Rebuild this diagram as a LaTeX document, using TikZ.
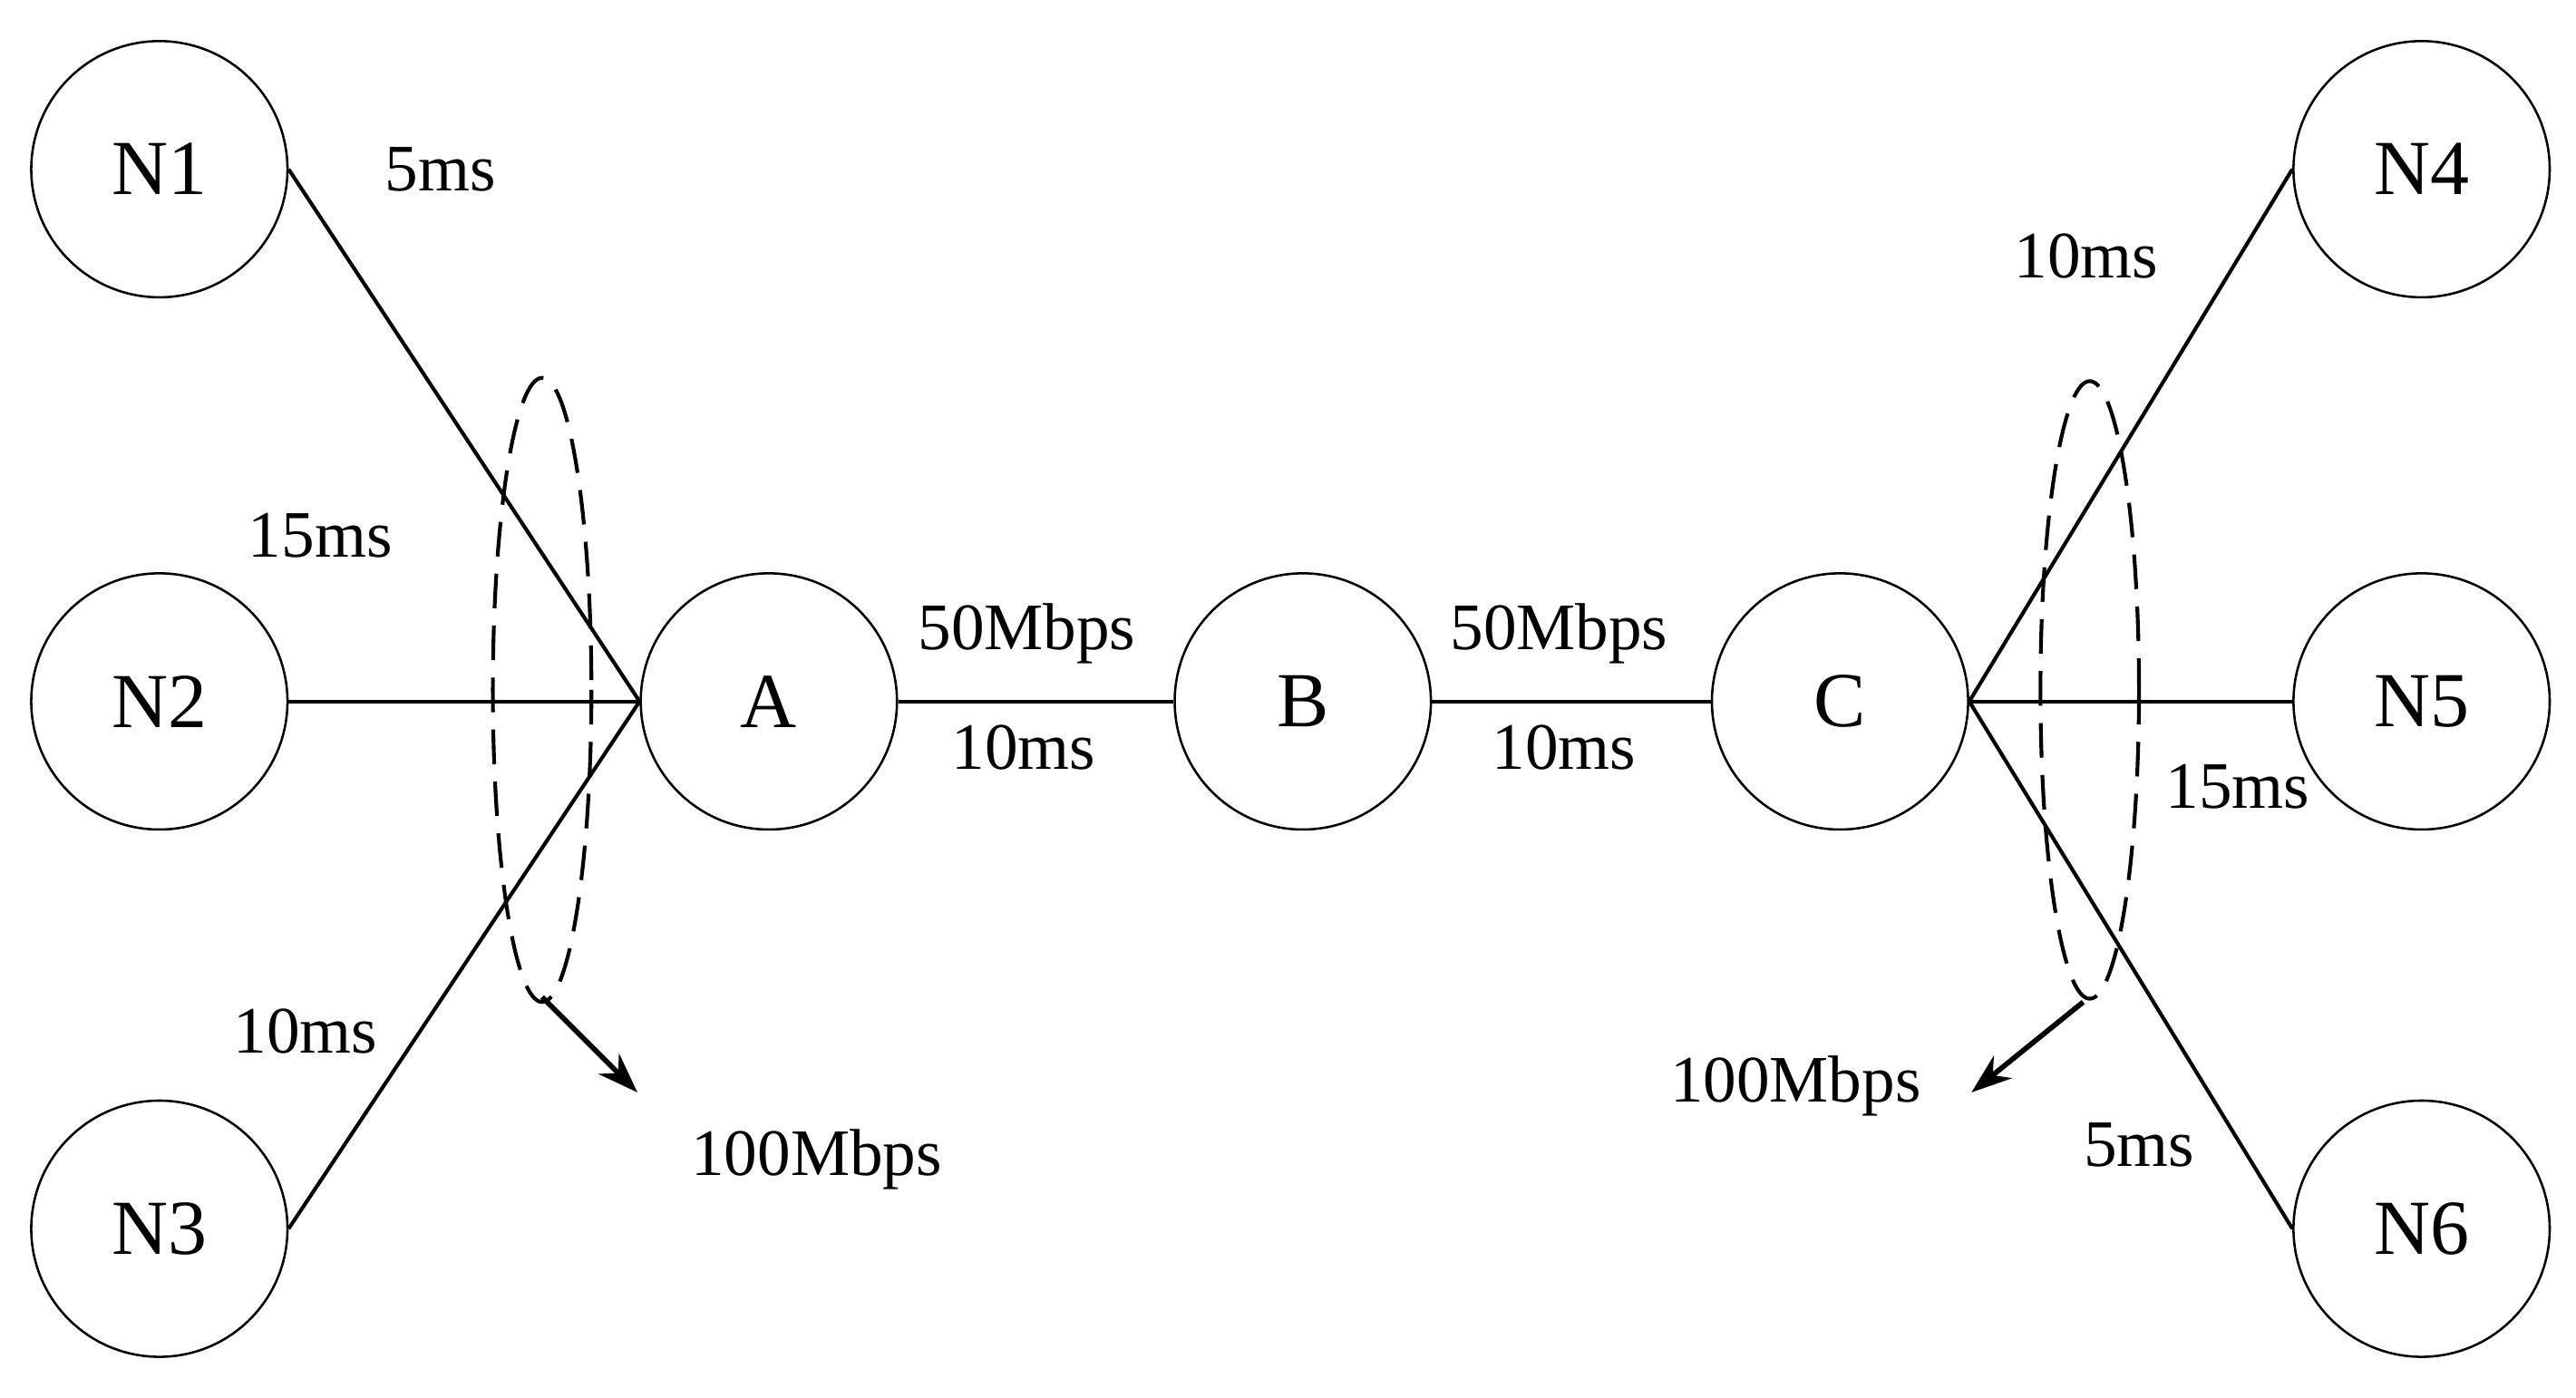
\documentclass[tikz,border=0pt]{standalone}
\usepackage{fontspec}
\setmainfont{Liberation Serif}
\usetikzlibrary{arrows.meta}
\begin{document}
\begin{tikzpicture}[x=0.02cm,y=-0.02cm,
 nd/.style={circle,draw,line width=0.8pt,minimum size=3.12cm,inner sep=0pt,font=\fontsize{27}{30}\selectfont},
 lb/.style={font=\fontsize{23}{26}\selectfont,inner sep=0pt},
 ln/.style={line width=1.3pt},
 el/.style={dashed,line width=1.3pt,dash pattern=on 12pt off 6pt},
 ar/.style={line width=1.8pt,-{Stealth[length=14pt,width=10pt]}}]
\useasboundingbox (0,0) rectangle (1568,851);
\node[nd] (N1) at (97,103) {N1};
\node[nd] (N2) at (97,427) {N2};
\node[nd] (N3) at (97,748) {N3};
\node[nd] (A) at (468,427) {A};
\node[nd] (B) at (793,427) {B};
\node[nd] (C) at (1120,427) {C};
\node[nd] (N4) at (1474,103) {N4};
\node[nd] (N5) at (1474,427) {N5};
\node[nd] (N6) at (1474,748) {N6};
\draw[ln] (N1.east) -- (A.west);
\draw[ln] (N2.east) -- (A.west);
\draw[ln] (N3.east) -- (A.west);
\draw[ln] (A) -- (B);
\draw[ln] (B) -- (C);
\draw[ln] (C.east) -- (N4.west);
\draw[ln] (C.east) -- (N5.west);
\draw[ln] (C.east) -- (N6.west);
\draw[el] (330,420) ellipse [x radius=30, y radius=190];
\draw[el] (1272,420) ellipse [x radius=30, y radius=188];
\coordinate (e1) at (330,607);
\coordinate (t1) at (388,665);
\coordinate (e2) at (1268,610);
\coordinate (t2) at (1200,665);
\draw[ar] (e1) -- (t1);
\draw[ar] (e2) -- (t2);
\node[lb] (l1) at (268,103) {5ms};
\node[lb] (l2) at (195,326) {15ms};
\node[lb] (l3) at (186,628) {10ms};
\node[lb] (l4) at (497,706) {100Mbps};
\node[lb] (l5) at (625,386) {50Mbps};
\node[lb] (l6) at (623,455) {10ms};
\node[lb] (l7) at (949,386) {50Mbps};
\node[lb] (l8) at (952,455) {10ms};
\node[lb] (l9) at (1270,156) {10ms};
\node[lb] (l10) at (1362,479) {15ms};
\node[lb] (l11) at (1302,697) {5ms};
\node[lb] (l12) at (1093,661) {100Mbps};
\end{tikzpicture}
\end{document}
